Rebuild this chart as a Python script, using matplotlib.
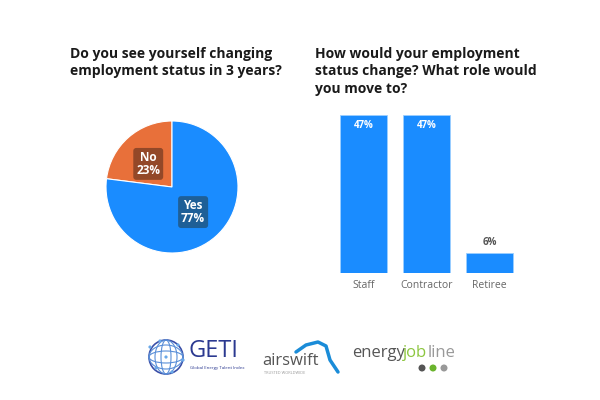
import matplotlib
matplotlib.use("Agg")
import matplotlib.pyplot as plt
from matplotlib.patches import Circle, Ellipse

# --- Data ---
pie_labels = ["No", "Yes"]
pie_values = [23, 77]
bar_labels = ["Staff", "Contractor", "Retiree"]
bar_values = [47, 47, 6]

BLUE = "#1a8cff"
ORANGE = "#e8703a"
TITLE_COLOR = "#1a1a1a"
FONT = ["Open Sans", "DejaVu Sans"]

fig = plt.figure(figsize=(6, 4), dpi=100)
fig.patch.set_facecolor("white")

# --- Titles ---
fig.text(70 / 600, 1 - 47 / 400, "Do you see yourself changing\nemployment status in 3 years?",
         ha="left", va="top", fontsize=10, fontweight="bold", color=TITLE_COLOR,
         family=FONT, linespacing=1.3)
fig.text(315 / 600, 1 - 47 / 400, "How would your employment\nstatus change? What role would\nyou move to?",
         ha="left", va="top", fontsize=10, fontweight="bold", color=TITLE_COLOR,
         family=FONT, linespacing=1.3)

# --- Pie ---
ax_pie = fig.add_axes([106 / 600, 1 - 253 / 400, 132 / 600, 132 / 400])
wedges, _ = ax_pie.pie(pie_values, colors=[ORANGE, BLUE], startangle=90, counterclock=True,
                       radius=1, wedgeprops=dict(edgecolor="white", linewidth=0.8))
ax_pie.set_xlim(-1, 1)
ax_pie.set_ylim(-1, 1)
ax_pie.set_aspect("equal")

box_colors = ["#8a4426", "#1f5a8c"]
label_pos = [(-0.36, 0.35), (0.32, -0.38)]
for lab, val, bc, (x, y) in zip(pie_labels, pie_values, box_colors, label_pos):
    ax_pie.text(x, y, f"{lab}\n{val}%", ha="center", va="center", fontsize=8.5,
                fontweight="bold", color="white", family=FONT, linespacing=1.0,
                bbox=dict(boxstyle="round,pad=0.25", fc=bc, ec="none", alpha=0.9))

# --- Bars ---
ax_bar = fig.add_axes([332 / 600, 1 - 273 / 400, 189 / 600, 168 / 400])
x = range(len(bar_values))
ax_bar.bar(x, bar_values, width=0.75, color=BLUE, edgecolor="#9ccfff", linewidth=0.6)
ax_bar.set_xlim(-0.5, len(bar_values) - 0.5)
ax_bar.set_ylim(0, 50)
for i, v in enumerate(bar_values):
    if v > 20:
        ax_bar.text(i, v - 1.5, f"{v}%", ha="center", va="top", fontsize=7,
                    fontweight="bold", color="white", family=FONT)
    else:
        ax_bar.text(i, v + 1.5, f"{v}%", ha="center", va="bottom", fontsize=7,
                    fontweight="bold", color="#555555", family=FONT)
ax_bar.set_xticks(list(x))
ax_bar.set_xticklabels(bar_labels, fontsize=7.5, color="#666666", family=FONT)
ax_bar.tick_params(axis="x", length=0, pad=5)
ax_bar.set_yticks([])
for s in ax_bar.spines.values():
    s.set_visible(False)

# --- Logos (approximated with shapes and text) ---
ax_logo = fig.add_axes([0, 0, 1, 1], zorder=-1)
ax_logo.set_xlim(0, 600)
ax_logo.set_ylim(400, 0)
ax_logo.axis("off")

# GETI globe
gx, gy, gr = 166, 357, 17
ax_logo.add_patch(Circle((gx, gy), gr, fill=False, ec="#3a4fa8", lw=1.2))
for w in (10, 22):
    ax_logo.add_patch(Ellipse((gx, gy), w, 2 * gr, fill=False, ec="#5a8fd8", lw=0.8))
for h in (12, 24):
    ax_logo.add_patch(Ellipse((gx, gy), 2 * gr, h, fill=False, ec="#5a8fd8", lw=0.8))
for px, py in ((150, 347), (160, 341), (178, 345), (183, 360), (172, 372), (156, 368), (166, 357)):
    ax_logo.add_patch(Circle((px, py), 1.6, fc="#6aa8e8", ec="none"))
ax_logo.text(189, 351, "GETI", fontsize=17, color="#2b3990", ha="left", va="center",
             family=FONT)
ax_logo.text(190, 368, "Global Energy Talent Index", fontsize=3.2, color="#2b3990",
             ha="left", va="center", family=FONT)

# airswift
ax_logo.text(262, 361, "airswift", fontsize=12, color="#555555", ha="left", va="center",
             family=FONT)
ax_logo.text(264, 373, "TRUSTED WORLDWIDE", fontsize=2.8, color="#999999", ha="left",
             va="center", family=FONT)
ax_logo.plot([296, 306, 318, 326, 330, 338], [352, 345, 342, 346, 360, 372], color="#1a8cd8",
             lw=2.5, solid_capstyle="round")

# energyjobline
ax_logo.text(352, 353, "energy", fontsize=12, color="#555555", ha="left", va="center",
             family=FONT)
ax_logo.text(403, 353, "job", fontsize=12, color="#8cc63f", ha="left", va="center",
             family=FONT)
ax_logo.text(428, 353, "line", fontsize=12, color="#999999", ha="left", va="center",
             family=FONT)
for cx, col in zip((422, 433, 444), ("#555555", "#6ab42d", "#999999")):
    ax_logo.add_patch(Circle((cx, 368), 3.5, fc=col, ec="none"))

fig.savefig("out.png", dpi=100, facecolor="white")
